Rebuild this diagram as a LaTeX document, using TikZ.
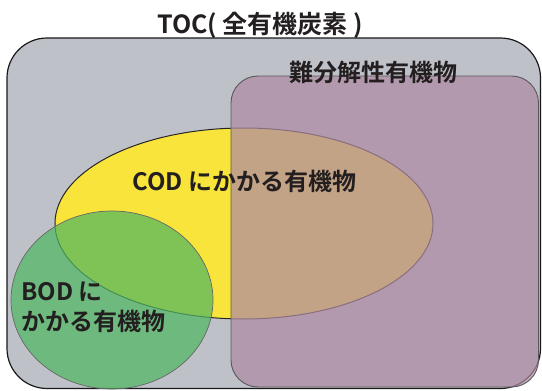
\documentclass[tikz,border=0pt]{standalone}
\usepackage{fontspec}
\newfontfamily\jp{Noto Sans CJK JP Bold}
\definecolor{tocgray}{RGB}{190,193,200}
\definecolor{hardpurple}{RGB}{175,138,163}
\definecolor{codyellow}{RGB}{249,228,59}
\definecolor{bodgreen}{RGB}{80,183,97}
\definecolor{txt}{RGB}{35,31,32}
\begin{document}
\begin{tikzpicture}[x=1pt,y=-1pt,
  lbl/.style={inner sep=0pt, text=txt, font=\jp\fontsize{24}{30}\selectfont}]
\useasboundingbox (0,0) rectangle (542,391);
% TOC frame
\draw[fill=tocgray, draw=black!90, line width=1.2pt, rounded corners=40pt] (7,38) rectangle (540.5,388.5);
% COD ellipse
\draw[fill=codyellow, draw=black!85, line width=1pt] (244,223.5) ellipse [x radius=189, y radius=95.5];
% hard-to-decompose box
\draw[fill=hardpurple, fill opacity=0.72, draw=black!65, line width=0.9pt, rounded corners=27pt] (231,76) rectangle (538.5,387);
% BOD ellipse
\draw[fill=bodgreen, fill opacity=0.72, draw=black!60, line width=0.7pt] (112,300) ellipse [x radius=101, y radius=89];
% labels
\node[lbl, anchor=base west, font=\jp\fontsize{25}{30}\selectfont] (title) at (157,33) {TOC( 全有機炭素 )};
\node[lbl, anchor=base] (hard) at (373.5,81) {難分解性有機物};
\node[lbl, anchor=base west] (cod) at (132,190) {COD にかかる有機物};
\node[lbl, anchor=base west] (bod1) at (21,300) {BOD に};
\node[lbl, anchor=base west] (bod2) at (21,330) {かかる有機物};
\end{tikzpicture}
\end{document}
